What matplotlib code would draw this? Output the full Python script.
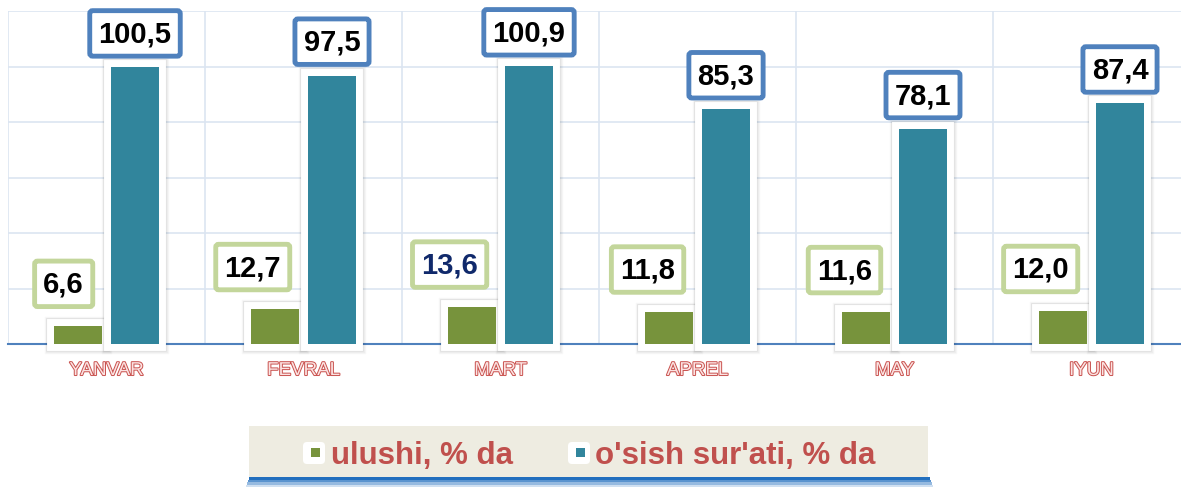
import numpy as np
import matplotlib.pyplot as plt
import matplotlib.patheffects as pe
from matplotlib.patches import Rectangle, FancyBboxPatch
from matplotlib.transforms import Affine2D

plt.rcParams['font.family'] = ['Liberation Sans', 'DejaVu Sans']

months = ['YANVAR', 'FEVRAL', 'MART', 'APREL', 'MAY', 'IYUN']
ulushi = [6.6, 12.7, 13.6, 11.8, 11.6, 12.0]
osish = [100.5, 97.5, 100.9, 85.3, 78.1, 87.4]
legend_names = ["ulushi, % da", "o'sish sur'ati, % da"]

green = '#77933c'
teal = '#31859c'
W, H = 1181, 489

fig = plt.figure(figsize=(W / 100, H / 100), dpi=100)
# pixel transform, origin at bottom-left
pxt = Affine2D().scale(1 / 100) + fig.dpi_scale_trans

ax = fig.add_axes([8 / W, 1 - 345 / H, 1182 / W, 333 / H])
ax.set_xlim(-0.5, 5.5)
ax.set_ylim(0, 121)

x = np.arange(len(months))
bw = 48 / 197
off = 28.5 / 197

# soft shadow round the white frame
glow = [pe.Stroke(linewidth=14, foreground='#000000', alpha=0.03),
        pe.Stroke(linewidth=12.5, foreground='#000000', alpha=0.04),
        pe.Stroke(linewidth=11.2, foreground='#000000', alpha=0.05),
        pe.Normal()]
for xs, vals, col in [(x - off, ulushi, green), (x + off, osish, teal)]:
    back = ax.bar(xs, vals, bw, color='white', edgecolor='white', linewidth=10, zorder=3)
    for b in back:
        b.set_path_effects(glow)
        b.set_clip_on(False)
    ax.bar(xs, vals, bw, color=col, linewidth=0, zorder=4)

def fmt(v):
    return f"{v:.1f}".replace('.', ',')

box_kw = dict(boxstyle='round,pad=0.3,rounding_size=0.1', fc='white', lw=3.5)
for i in range(len(months)):
    ax.annotate(fmt(osish[i]), xy=(x[i] + off, osish[i]), xytext=(0, 34),
                textcoords='offset pixels', ha='center', va='center',
                fontsize=21, fontweight='bold', color='black', zorder=6,
                bbox=dict(ec='#4f81bd', **box_kw))
    tc = '#10296b' if months[i] == 'MART' else 'black'
    ax.annotate(fmt(ulushi[i]), xy=(x[i] - off, ulushi[i]), xytext=(6, 42),
                textcoords='offset pixels', ha='right', va='center',
                fontsize=21, fontweight='bold', color=tc, zorder=6,
                bbox=dict(ec='#c3d69b', **box_kw))

# grid
ax.set_yticks(np.linspace(0, 121, 7))
ax.set_xticks(np.arange(-0.5, 6, 1), minor=True)
ax.grid(True, axis='y', color='#dce5f1', linewidth=1.2, zorder=0)
ax.grid(True, axis='x', which='minor', color='#dce5f1', linewidth=1.2, zorder=0)
ax.set_axisbelow(True)
for s in ['top', 'right', 'left']:
    ax.spines[s].set_visible(False)
ax.spines['bottom'].set_color('#4f81bd')
ax.spines['bottom'].set_linewidth(1.5)
ax.spines['bottom'].set_zorder(2)
ax.tick_params(axis='y', left=False, labelleft=False)
ax.set_xticks(x, months)
ax.tick_params(axis='x', which='both', length=0, pad=13, labelsize=13.5)
for lbl in ax.get_xticklabels():
    lbl.set_color('#fbe3e2')
    lbl.set_path_effects([pe.withStroke(linewidth=1.4, foreground='#c9514e')])

# legend drawn by hand
for i, a in enumerate([0.95, 0.7, 0.45, 0.2]):
    fig.add_artist(Rectangle((249 - i, H - (478 + 2.5 * (i + 1))), 681 + 2 * i, 2.5,
                             transform=pxt, fc='#1667bb', ec='none', alpha=a))
fig.add_artist(Rectangle((249, H - 478), 679, 51, transform=pxt, fc='#eeece1', ec='none'))
for mx, col, tx, name in [(303, green, 331, legend_names[0]), (568, teal, 595, legend_names[1])]:
    fig.add_artist(FancyBboxPatch((mx, H - 465), 22, 22, boxstyle='round,pad=0,rounding_size=4',
                                  transform=pxt, fc='white', ec='none'))
    fig.add_artist(Rectangle((mx + 7.5, H - 458), 9, 9, transform=pxt, fc=col, ec='none'))
    fig.text(tx, H - 464, name, transform=pxt, va='baseline', ha='left',
             fontsize=22.5, fontweight='bold', color='#c0504d')

fig.savefig('out.png', dpi=100)
